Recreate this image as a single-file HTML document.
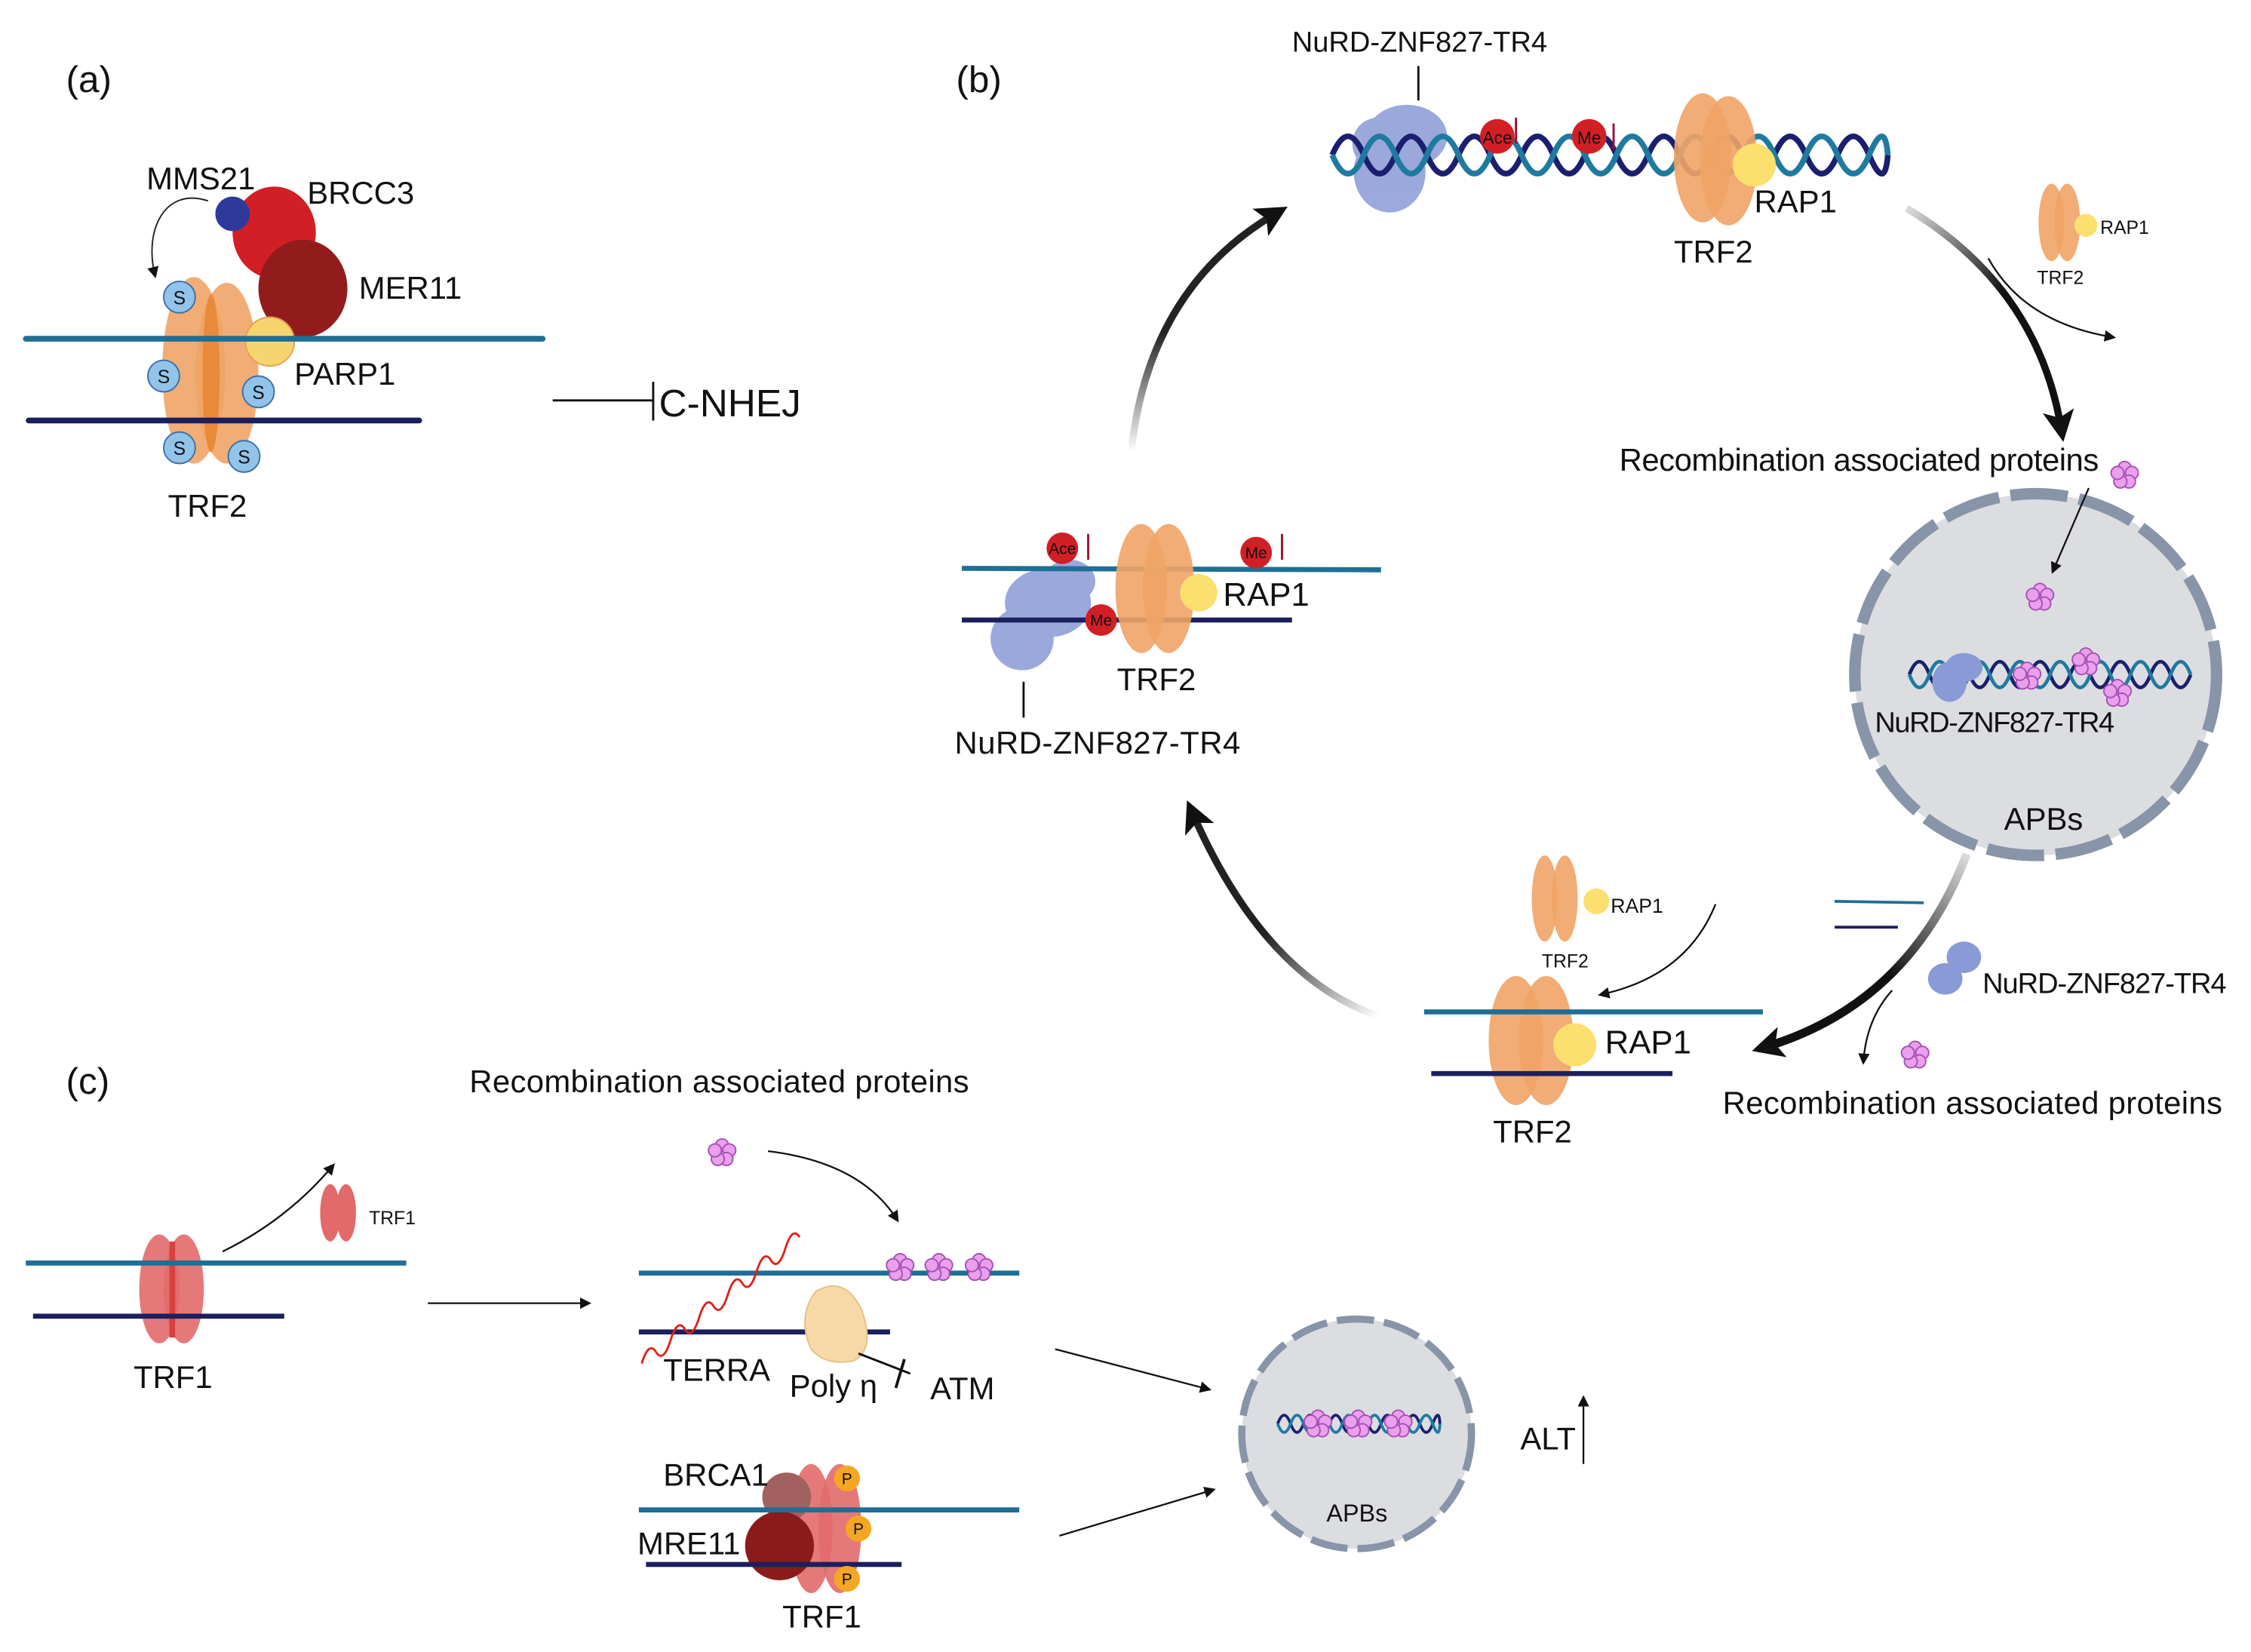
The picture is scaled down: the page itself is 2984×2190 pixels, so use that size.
<!DOCTYPE html>
<html><head><meta charset="utf-8"><style>
html,body{margin:0;padding:0;background:#fff;}
svg{display:block;}
text{font-family:"Liberation Sans",sans-serif;fill:#111;}
</style></head><body>
<svg width="2984" height="2190" viewBox="0 0 1568 1151" preserveAspectRatio="none" xmlns="http://www.w3.org/2000/svg">
<defs>
<marker id="ah" markerWidth="8" markerHeight="8" refX="6" refY="4" orient="auto" markerUnits="userSpaceOnUse"><path d="M0,0 L8,4 L0,8 z" fill="#111"/></marker>
<marker id="ahb" markerWidth="22" markerHeight="22" refX="14" refY="11" orient="auto" markerUnits="userSpaceOnUse"><path d="M0,0 L22,11 L0,22 L5,11 z" fill="#111"/></marker>
<linearGradient id="g1" x1="0" y1="1" x2="0" y2="0"><stop offset="0" stop-color="#fff"/><stop offset="0.5" stop-color="#222"/></linearGradient>
<linearGradient id="g2" x1="0" y1="0" x2="1" y2="1"><stop offset="0" stop-color="#ddd"/><stop offset="0.5" stop-color="#111"/></linearGradient>
<linearGradient id="g3" x1="1" y1="0" x2="0" y2="1"><stop offset="0" stop-color="#ddd"/><stop offset="0.5" stop-color="#111"/></linearGradient>
<linearGradient id="g4" x1="1" y1="1" x2="0" y2="0"><stop offset="0" stop-color="#fff"/><stop offset="0.5" stop-color="#222"/></linearGradient>
<g id="fl"><circle cx="0" cy="-5" r="4.5"/><circle cx="5" cy="-1.5" r="4.5"/><circle cx="3" cy="4.5" r="4.5"/><circle cx="-3" cy="4.5" r="4.5"/><circle cx="-5" cy="-1.5" r="4.5"/></g>
</defs>
<style>
.fl{fill:#eaa0ec;stroke:#a64fb5;stroke-width:1}
.or{fill:#f0a466;opacity:.9}
.s{fill:#92c4ea;stroke:#3a6fa8;stroke-width:1}
</style>

<!-- (a) -->
<text x="46" y="64" font-size="26">(a)</text>
<text x="102" y="132" font-size="22">MMS21</text>
<text x="214" y="142" font-size="22">BRCC3</text>
<text x="250" y="208" font-size="22">MER11</text>
<text x="205" y="268" font-size="22">PARP1</text>
<text x="117" y="360" font-size="22">TRF2</text>
<ellipse cx="135" cy="258" rx="22" ry="65" class="or"/>
<ellipse cx="158" cy="260" rx="22" ry="63" class="or"/>
<ellipse cx="147" cy="260" rx="6" ry="55" fill="#e88a3a"/>
<ellipse cx="191" cy="162" rx="29" ry="32" fill="#d21f26"/>
<circle cx="162" cy="149" r="12" fill="#2e3a9a"/>
<ellipse cx="211" cy="201" rx="31" ry="34" fill="#921c1c"/>
<circle cx="188" cy="238" r="17" fill="#f7d56e" stroke="#e8a050"/>
<line x1="18" y1="236" x2="378" y2="236" stroke="#1f6e95" stroke-width="4" stroke-linecap="round"/>
<line x1="20" y1="293" x2="292" y2="293" stroke="#1b1f5e" stroke-width="4" stroke-linecap="round"/>
<path d="M145 140 C115 130 100 160 108 192" fill="none" stroke="#222" stroke-width="1" marker-end="url(#ah)"/>
<g font-size="13" text-anchor="middle"><circle cx="125" cy="207" r="11" class="s"/><text x="125" y="212">S</text>
<circle cx="114" cy="262" r="11" class="s"/><text x="114" y="267">S</text>
<circle cx="180" cy="273" r="11" class="s"/><text x="180" y="278">S</text>
<circle cx="125" cy="312" r="11" class="s"/><text x="125" y="317">S</text>
<circle cx="170" cy="318" r="11" class="s"/><text x="170" y="323">S</text></g>
<line x1="385" y1="279" x2="455" y2="279" stroke="#111" stroke-width="1.5"/>
<line x1="455" y1="266" x2="455" y2="293" stroke="#111" stroke-width="1.5"/>
<text x="459" y="290" font-size="27">C-NHEJ</text>

<!-- (b) -->
<text x="666" y="64" font-size="26">(b)</text>
<text x="900" y="36" font-size="20">NuRD-ZNF827-TR4</text>
<line x1="988" y1="46" x2="988" y2="70" stroke="#111" stroke-width="1.5"/>
<g fill="#8a9ad6" opacity=".85"><ellipse cx="968" cy="120" rx="25" ry="28"/><ellipse cx="980" cy="95" rx="28" ry="22"/><ellipse cx="960" cy="100" rx="18" ry="18"/></g>
<path d="M928 108 q11 -26 22 0 t22 0 t22 0 t22 0 t22 0 t22 0 t22 0 t22 0 t22 0 t22 0 t22 0 t22 0 t22 0 t22 0 t22 0 t22 0 t22 0 t13 0" fill="none" stroke="#1b1f6e" stroke-width="4"/>
<path d="M928 108 q11 26 22 0 t22 0 t22 0 t22 0 t22 0 t22 0 t22 0 t22 0 t22 0 t22 0 t22 0 t22 0 t22 0 t22 0 t22 0 t22 0 t22 0 t13 0" fill="none" stroke="#1f7aa0" stroke-width="4"/>
<ellipse cx="1186" cy="110" rx="20" ry="45" class="or" opacity=".85"/>
<ellipse cx="1204" cy="112" rx="20" ry="45" class="or" opacity=".85"/>
<circle cx="1222" cy="115" r="15" fill="#fbe070"/>
<circle cx="1043" cy="95" r="12" fill="#d21f26"/><text x="1043" y="100" font-size="12" text-anchor="middle">Ace</text>
<line x1="1056" y1="82" x2="1056" y2="100" stroke="#9a1030" stroke-width="1.5"/>
<circle cx="1107" cy="95" r="12" fill="#d21f26"/><text x="1107" y="100" font-size="12" text-anchor="middle">Me</text>
<line x1="1124" y1="104" x2="1124" y2="86" stroke="#9a1030" stroke-width="1.5"/>
<text x="1222" y="148" font-size="22">RAP1</text>
<text x="1166" y="183" font-size="22">TRF2</text>
<ellipse cx="1429" cy="155" rx="9" ry="27" class="or"/><ellipse cx="1440" cy="155" rx="9" ry="27" class="or"/>
<circle cx="1453" cy="157" r="8" fill="#fbe070"/>
<text x="1463" y="163" font-size="13">RAP1</text>
<text x="1419" y="198" font-size="13">TRF2</text>
<path d="M1385 180 Q1410 225 1472 235" fill="none" stroke="#111" stroke-width="1.2" marker-end="url(#ah)"/>
<path d="M1328 145 Q1420 200 1436 300" fill="none" stroke="url(#g2)" stroke-width="5" marker-end="url(#ahb)"/>
<text x="1128" y="328" font-size="22" textLength="334">Recombination associated proteins</text>
<use href="#fl" x="1480" y="331" class="fl"/>
<!-- big APB -->
<circle cx="1418" cy="470" r="126" fill="#dcdde1" stroke="#8894a8" stroke-width="8" stroke-dasharray="40 8"/>
<path d="M1455 340 L1430 398" stroke="#111" stroke-width="1.2" marker-end="url(#ah)"/>
<use href="#fl" x="1421" y="416" class="fl"/>
<path d="M1330 470 q7 -18 14 0 t14 0 t14 0 t14 0 t14 0 t14 0 t14 0 t14 0 t14 0 t14 0 t14 0 t14 0 t14 0 t14 0" fill="none" stroke="#1b1f6e" stroke-width="2.5"/>
<path d="M1330 470 q7 18 14 0 t14 0 t14 0 t14 0 t14 0 t14 0 t14 0 t14 0 t14 0 t14 0 t14 0 t14 0 t14 0 t14 0" fill="none" stroke="#1f7aa0" stroke-width="2.5"/>
<g fill="#8a9ad6"><ellipse cx="1358" cy="475" rx="12" ry="14"/><ellipse cx="1368" cy="465" rx="13" ry="10"/></g>
<use href="#fl" x="1412" y="471" class="fl"/><use href="#fl" x="1453" y="461" class="fl"/><use href="#fl" x="1475" y="483" class="fl"/>
<text x="1306" y="510" font-size="20" textLength="167">NuRD-ZNF827-TR4</text>
<text x="1396" y="578" font-size="22">APBs</text>
<!-- middle-left -->
<g fill="#8a9ad6" opacity=".85"><ellipse cx="712" cy="445" rx="22" ry="22"/><ellipse cx="730" cy="420" rx="30" ry="24"/><ellipse cx="745" cy="405" rx="18" ry="15"/></g>
<line x1="670" y1="396" x2="962" y2="397" stroke="#1f6e95" stroke-width="3.5"/>
<line x1="670" y1="432" x2="900" y2="432" stroke="#1b1f5e" stroke-width="3.5"/>
<ellipse cx="795" cy="410" rx="18" ry="45" class="or" opacity=".85"/>
<ellipse cx="814" cy="410" rx="18" ry="45" class="or" opacity=".85"/>
<circle cx="835" cy="413" r="13" fill="#fbe070"/>
<circle cx="740" cy="382" r="11" fill="#d21f26"/><text x="740" y="386" font-size="11" text-anchor="middle">Ace</text>
<line x1="758" y1="372" x2="758" y2="390" stroke="#9a1030" stroke-width="1.5"/>
<circle cx="875" cy="385" r="11" fill="#d21f26"/><text x="875" y="389" font-size="11" text-anchor="middle">Me</text>
<line x1="893" y1="390" x2="893" y2="372" stroke="#9a1030" stroke-width="1.5"/>
<circle cx="767" cy="432" r="11" fill="#d21f26"/><text x="767" y="436" font-size="11" text-anchor="middle">Me</text>
<text x="852" y="422" font-size="23">RAP1</text>
<text x="778" y="481" font-size="22">TRF2</text>
<line x1="713" y1="475" x2="713" y2="500" stroke="#111" stroke-width="1.5"/>
<text x="665" y="525" font-size="22" textLength="199">NuRD-ZNF827-TR4</text>
<path d="M788 315 Q800 200 890 148" fill="none" stroke="url(#g1)" stroke-width="5" marker-end="url(#ahb)"/>
<path d="M960 708 Q880 680 830 565" fill="none" stroke="url(#g4)" stroke-width="5" marker-end="url(#ahb)"/>
<!-- bottom right -->
<ellipse cx="1076" cy="626" rx="9" ry="30" class="or"/><ellipse cx="1090" cy="626" rx="9" ry="30" class="or"/>
<circle cx="1112" cy="628" r="9" fill="#fbe070"/>
<text x="1122" y="636" font-size="14">RAP1</text>
<text x="1074" y="674" font-size="13">TRF2</text>
<path d="M1195 630 Q1175 680 1115 693" fill="none" stroke="#111" stroke-width="1.2" marker-end="url(#ah)"/>
<ellipse cx="1056" cy="725" rx="19" ry="45" class="or" opacity=".9"/>
<ellipse cx="1077" cy="725" rx="19" ry="45" class="or" opacity=".9"/>
<line x1="992" y1="705" x2="1228" y2="705" stroke="#1f6e95" stroke-width="3.5"/>
<line x1="997" y1="748" x2="1165" y2="748" stroke="#1b1f5e" stroke-width="3.5"/>
<circle cx="1097" cy="728" r="15" fill="#fbe070"/>
<text x="1118" y="734" font-size="23">RAP1</text>
<text x="1040" y="796" font-size="22">TRF2</text>
<path d="M1370 595 Q1330 700 1228 730" fill="none" stroke="url(#g3)" stroke-width="6" marker-end="url(#ahb)"/>
<line x1="1278" y1="628" x2="1340" y2="629" stroke="#1f6e95" stroke-width="2"/>
<line x1="1278" y1="646" x2="1322" y2="646" stroke="#1b1f5e" stroke-width="2"/>
<g fill="#8a9ad6"><ellipse cx="1355" cy="682" rx="12" ry="11"/><ellipse cx="1368" cy="667" rx="12" ry="11"/></g>
<text x="1381" y="692" font-size="20" textLength="170">NuRD-ZNF827-TR4</text>
<path d="M1318 690 Q1300 710 1298 740" fill="none" stroke="#111" stroke-width="1.2" marker-end="url(#ah)"/>
<use href="#fl" x="1334" y="735" class="fl"/>
<text x="1200" y="776" font-size="22" textLength="348">Recombination associated proteins</text>

<!-- (c) -->
<text x="46" y="762" font-size="26">(c)</text>
<text x="327" y="761" font-size="22" textLength="348">Recombination associated proteins</text>
<ellipse cx="111" cy="898" rx="14" ry="38" fill="#e26a6a" opacity=".9"/>
<ellipse cx="128" cy="898" rx="14" ry="38" fill="#e26a6a" opacity=".9"/>
<line x1="120" y1="865" x2="120" y2="932" stroke="#d84040" stroke-width="4"/>
<line x1="18" y1="880" x2="283" y2="880" stroke="#1f6e95" stroke-width="3.5"/>
<line x1="23" y1="917" x2="198" y2="917" stroke="#1b1f5e" stroke-width="3.5"/>
<path d="M155 872 Q200 850 232 812" fill="none" stroke="#111" stroke-width="1.2" marker-end="url(#ah)"/>
<ellipse cx="230" cy="845" rx="7" ry="20" fill="#e26a6a"/><ellipse cx="241" cy="845" rx="7" ry="20" fill="#e26a6a"/>
<text x="257" y="853" font-size="13">TRF1</text>
<text x="93" y="967" font-size="22">TRF1</text>
<line x1="298" y1="908" x2="410" y2="908" stroke="#111" stroke-width="1.2" marker-end="url(#ah)"/>
<use href="#fl" x="503" y="803" class="fl"/>
<path d="M535 802 Q600 810 625 850" fill="none" stroke="#111" stroke-width="1.2" marker-end="url(#ah)"/>
<line x1="445" y1="887" x2="710" y2="887" stroke="#1f6e95" stroke-width="3.5"/>
<line x1="445" y1="928" x2="620" y2="928" stroke="#1b1f5e" stroke-width="3.5"/>
<g class="fl"><use href="#fl" x="627" y="883"/><use href="#fl" x="654" y="883"/><use href="#fl" x="682" y="883"/></g>
<path d="M447 950 q5 -16 10 -8 t10 -8 t10 -8 t10 -8 t10 -8 t10 -8 t10 -8 t10 -8 t10 -8 t10 -8 t10 -8" fill="none" stroke="#e0201a" stroke-width="1.5"/>
<path d="M568 900 Q588 888 600 912 Q610 940 595 948 Q575 952 565 940 Q555 918 568 900 z" fill="#f7d9a8" stroke="#e6c080"/>
<text x="462" y="962" font-size="22">TERRA</text>
<text x="550" y="973" font-size="22">Poly η</text>
<line x1="598" y1="943" x2="634" y2="957" stroke="#111" stroke-width="1.5"/>
<line x1="630" y1="947" x2="624" y2="967" stroke="#111" stroke-width="2"/>
<text x="648" y="975" font-size="22">ATM</text>
<line x1="735" y1="940" x2="842" y2="968" stroke="#111" stroke-width="1.2" marker-end="url(#ah)"/>
<line x1="738" y1="1070" x2="845" y2="1038" stroke="#111" stroke-width="1.2" marker-end="url(#ah)"/>
<!-- BRCA1 group -->
<ellipse cx="565" cy="1065" rx="15" ry="45" fill="#e26a6a" opacity=".9"/>
<ellipse cx="585" cy="1065" rx="15" ry="45" fill="#e26a6a" opacity=".9"/>
<circle cx="548" cy="1043" r="17" fill="#a2605e"/>
<circle cx="543" cy="1077" r="24" fill="#8b1a1a"/>
<line x1="445" y1="1052" x2="710" y2="1052" stroke="#1f6e95" stroke-width="3.5"/>
<line x1="450" y1="1090" x2="628" y2="1090" stroke="#1b1f5e" stroke-width="3.5"/>
<g font-size="11" text-anchor="middle"><circle cx="590" cy="1030" r="9" fill="#f5a623"/><text x="590" y="1034">P</text>
<circle cx="598" cy="1065" r="9" fill="#f5a623"/><text x="598" y="1069">P</text>
<circle cx="590" cy="1100" r="9" fill="#f5a623"/><text x="590" y="1104">P</text></g>
<text x="462" y="1035" font-size="22">BRCA1</text>
<text x="444" y="1083" font-size="22">MRE11</text>
<text x="545" y="1134" font-size="22">TRF1</text>
<!-- small APB -->
<circle cx="945" cy="999" r="80" fill="#dcdde1" stroke="#8894a8" stroke-width="5" stroke-dasharray="26 7"/>
<path d="M890 992 q4.5 -12 9 0 t9 0 t9 0 t9 0 t9 0 t9 0 t9 0 t9 0 t9 0 t9 0 t9 0 t9 0 t5 0" fill="none" stroke="#1b1f6e" stroke-width="2"/>
<path d="M890 992 q4.5 12 9 0 t9 0 t9 0 t9 0 t9 0 t9 0 t9 0 t9 0 t9 0 t9 0 t9 0 t9 0 t5 0" fill="none" stroke="#1f7aa0" stroke-width="2"/>
<g class="fl"><use href="#fl" x="918" y="992"/><use href="#fl" x="946" y="992"/><use href="#fl" x="974" y="992"/></g>
<text x="924" y="1060" font-size="17">APBs</text>
<text x="1059" y="1010" font-size="22">ALT</text>
<line x1="1103" y1="1020" x2="1103" y2="974" stroke="#111" stroke-width="1.2" marker-end="url(#ah)"/>
</svg>
</body></html>
